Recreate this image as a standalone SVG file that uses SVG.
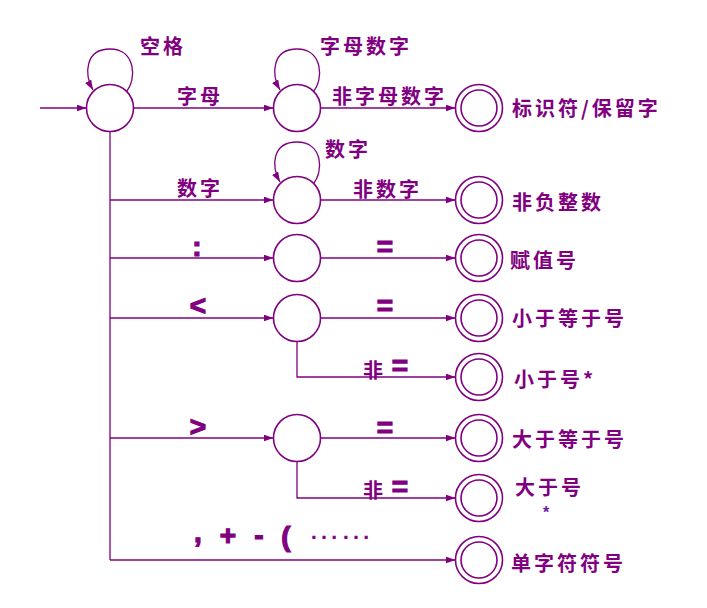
<svg xmlns="http://www.w3.org/2000/svg" width="707" height="608" viewBox="0 0 707 608">
<defs>
<marker id="ah" markerWidth="10" markerHeight="7" refX="10" refY="3.5" orient="auto" markerUnits="userSpaceOnUse">
<path d="M0,0 L10,3.5 L0,7 z" fill="#800080"/>
</marker>
<style>
.st{fill:#fff;stroke:#800080;stroke-width:1.6}
.ln{fill:none;stroke:#800080;stroke-width:1.3}
.cj{font-family:"Noto Sans CJK SC","Noto Sans CJK TC",sans-serif;font-weight:bold;font-size:20px;fill:#800080;letter-spacing:3px}
.sy{font-family:"Liberation Sans",Arial,sans-serif;font-weight:bold;font-size:28px;fill:#800080;stroke:#800080;stroke-width:1.2}
</style>
</defs>
<rect width="707" height="608" fill="#fff"/>
<g id="connectors">
<path class="ln" d="M40,108 H86.5" marker-end="url(#ah)"/>
<path class="ln" d="M126,92 C137,80 136,49 110,49 C85,49 84,74 93,90" marker-end="url(#ah)"/>
<path class="ln" d="M133.5,108 H273.5" marker-end="url(#ah)"/>
<path class="ln" d="M313,92 C324,80 323,49 297,49 C272,49 271,74 280,90" marker-end="url(#ah)"/>
<path class="ln" d="M320.5,108 H455.5" marker-end="url(#ah)"/>
<path class="ln" d="M110,131.5 V560"/>
<path class="ln" d="M110,200 H273.5" marker-end="url(#ah)"/>
<path class="ln" d="M313,184 C324,172 323,142 297,142 C272,142 271,166 280,182" marker-end="url(#ah)"/>
<path class="ln" d="M320.5,200 H455.5" marker-end="url(#ah)"/>
<path class="ln" d="M110,258 H273.5" marker-end="url(#ah)"/>
<path class="ln" d="M320.5,258 H455.5" marker-end="url(#ah)"/>
<path class="ln" d="M110,318 H273.5" marker-end="url(#ah)"/>
<path class="ln" d="M320.5,318 H455.5" marker-end="url(#ah)"/>
<path class="ln" d="M297,341.5 V377 H455.5" marker-end="url(#ah)"/>
<path class="ln" d="M110,438 H273.5" marker-end="url(#ah)"/>
<path class="ln" d="M320.5,438 H455.5" marker-end="url(#ah)"/>
<path class="ln" d="M297,461.5 V498 H455.5" marker-end="url(#ah)"/>
<path class="ln" d="M110,560 H455.5" marker-end="url(#ah)"/>
</g>
<g id="labels">
<text class="cj" x="140" y="54">空格</text>
<text class="cj" x="177" y="104">字母</text>
<text class="cj" x="320" y="54">字母数字</text>
<text class="cj" x="332" y="104">非字母数字</text>
<text class="cj" x="325" y="157">数字</text>
<text class="cj" x="177" y="196">数字</text>
<text class="cj" x="353" y="197">非数字</text>
<text class="sy" x="197" y="256" text-anchor="middle" font-size="30">:</text>
<text class="sy" x="385" y="256" text-anchor="middle">=</text>
<text class="sy" x="198" y="315" text-anchor="middle">&lt;</text>
<text class="sy" x="385" y="315" text-anchor="middle">=</text>
<text class="cj" x="363" y="378">非</text>
<text class="sy" x="400" y="375" text-anchor="middle">=</text>
<text class="sy" x="198" y="436" text-anchor="middle">&gt;</text>
<text class="sy" x="385" y="437" text-anchor="middle">=</text>
<text class="cj" x="363" y="498">非</text>
<text class="sy" x="400" y="496" text-anchor="middle">=</text>
<text class="sy" x="198" y="542" text-anchor="middle" font-size="30">,</text>
<text class="sy" x="228" y="545" text-anchor="middle">+</text>
<text class="sy" x="259" y="545" text-anchor="middle">-</text>
<text class="sy" x="286" y="546" text-anchor="middle">(</text>
<text x="308" y="539" font-family="Liberation Sans, Arial, sans-serif" font-size="32" fill="#800080">……</text>
</g>
<g id="s0"><circle class="st" cx="110" cy="108" r="23.5"/></g>
<g id="s1"><circle class="st" cx="297" cy="108" r="23.5"/></g>
<g id="s2"><circle class="st" cx="297" cy="200" r="23.5"/></g>
<g id="s3"><circle class="st" cx="297" cy="258" r="23.5"/></g>
<g id="s4"><circle class="st" cx="297" cy="318" r="23.5"/></g>
<g id="s5"><circle class="st" cx="297" cy="438" r="23.5"/></g>
<g id="f-id"><circle class="st" cx="479" cy="108" r="23.5"/><circle class="st" cx="479" cy="108" r="18"/><text class="cj" x="512" y="116">标识符/保留字</text></g>
<g id="f-num"><circle class="st" cx="479" cy="200" r="23.5"/><circle class="st" cx="479" cy="200" r="18"/><text class="cj" x="512" y="210">非负整数</text></g>
<g id="f-assign"><circle class="st" cx="479" cy="258" r="23.5"/><circle class="st" cx="479" cy="258" r="18"/><text class="cj" x="510" y="268">赋值号</text></g>
<g id="f-le"><circle class="st" cx="479" cy="318" r="23.5"/><circle class="st" cx="479" cy="318" r="18"/><text class="cj" x="512" y="326">小于等于号</text></g>
<g id="f-lt"><circle class="st" cx="479" cy="377" r="23.5"/><circle class="st" cx="479" cy="377" r="18"/><text class="cj" x="514" y="387">小于号*</text></g>
<g id="f-ge"><circle class="st" cx="479" cy="438" r="23.5"/><circle class="st" cx="479" cy="438" r="18"/><text class="cj" x="512" y="447">大于等于号</text></g>
<g id="f-gt"><circle class="st" cx="479" cy="498" r="23.5"/><circle class="st" cx="479" cy="498" r="18"/><text class="cj" x="515" y="495">大于号</text><text x="546" y="518" text-anchor="middle" font-family="Liberation Sans, Arial, sans-serif" font-weight="bold" font-size="16" fill="#6a1b9a">*</text></g>
<g id="f-single"><circle class="st" cx="479" cy="560" r="23.5"/><circle class="st" cx="479" cy="560" r="18"/><text class="cj" x="511" y="571">单字符符号</text></g>
</svg>
